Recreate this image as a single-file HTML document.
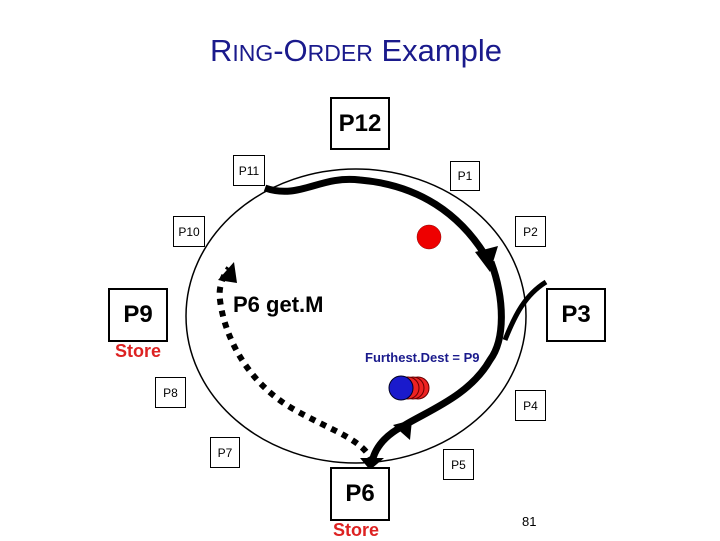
<!DOCTYPE html>
<html><head><style>
body{margin:0;width:720px;height:540px;background:#fff;position:relative;overflow:hidden;font-family:"Liberation Sans",sans-serif}
.b{position:absolute;border:2px solid #000;box-sizing:border-box;display:flex;align-items:center;justify-content:center;background:#fff}
.s{font-size:12px;border-width:1.5px}
.L{font-size:24px;font-weight:bold}
.t{position:absolute;white-space:nowrap}
</style></head><body>
<div class="t" style="left:0;width:712px;text-align:center;top:33px;color:#1a1a8c;font-size:31px">R<span style="font-size:23px">ING</span>-O<span style="font-size:23px">RDER</span> Example</div>
<svg width="720" height="540" style="position:absolute;left:0;top:0">
<ellipse cx="356" cy="316" rx="170" ry="147" fill="none" stroke="#000" stroke-width="1.5"/>
<path d="M265,188 C300,200 320,175 360,180 C420,185 460,215 485,255" fill="none" stroke="#000" stroke-width="7"/>
<polygon points="475,252 498,246 490,272" fill="#000"/>
<path d="M491,262 C505,300 505,340 490,360 C470,395 430,410 405,425 C385,435 375,448 372,462" fill="none" stroke="#000" stroke-width="7"/>
<path d="M546,282 C525,295 515,315 505,340" fill="none" stroke="#000" stroke-width="5"/>
<polygon points="393,425 412,420 410,440" fill="#000"/>
<polygon points="360,458 384,458 370,470" fill="#000"/>
<path d="M372,462 C365,440 330,430 295,410 C250,385 225,340 220,300 C218,285 224,275 229,268" fill="none" stroke="#000" stroke-width="6" stroke-dasharray="6,6"/>
<polygon points="218,280 234,262 237,283" fill="#000"/>
<circle cx="429" cy="237" r="12" fill="#e00" stroke="#800" stroke-width="0.5"/>
<circle cx="418" cy="388" r="11" fill="#e22" stroke="#600"/>
<circle cx="413" cy="388" r="11" fill="#e22" stroke="#600"/>
<circle cx="408" cy="388" r="11" fill="#e22" stroke="#600"/>
<circle cx="401" cy="388" r="12" fill="#1a1acc" stroke="#002"/>
</svg>
<div class="b L" style="left:330px;top:97px;width:60px;height:53px">P12</div>
<div class="b s" style="left:233px;top:155px;width:32px;height:31px">P11</div>
<div class="b s" style="left:450px;top:161px;width:30px;height:30px">P1</div>
<div class="b s" style="left:173px;top:216px;width:32px;height:31px">P10</div>
<div class="b s" style="left:515px;top:216px;width:31px;height:31px">P2</div>
<div class="b L" style="left:108px;top:288px;width:60px;height:54px">P9</div>
<div class="b L" style="left:546px;top:288px;width:60px;height:54px">P3</div>
<div class="b s" style="left:155px;top:377px;width:31px;height:31px">P8</div>
<div class="b s" style="left:515px;top:390px;width:31px;height:31px">P4</div>
<div class="b s" style="left:210px;top:437px;width:30px;height:31px">P7</div>
<div class="b s" style="left:443px;top:449px;width:31px;height:31px">P5</div>
<div class="b L" style="left:330px;top:467px;width:60px;height:54px">P6</div>
<div class="t" style="left:115px;top:341px;color:#d22;font-size:18px;font-weight:bold">Store</div>
<div class="t" style="left:333px;top:520px;color:#d22;font-size:18px;font-weight:bold">Store</div>
<div class="t" style="left:233px;top:292px;font-size:22px;font-weight:bold">P6 get.M</div>
<div class="t" style="left:365px;top:350px;color:#1a1a8c;font-size:13px;font-weight:bold">Furthest.Dest = P9</div>
<div class="t" style="left:522px;top:514px;font-size:13px">81</div>
</body></html>
